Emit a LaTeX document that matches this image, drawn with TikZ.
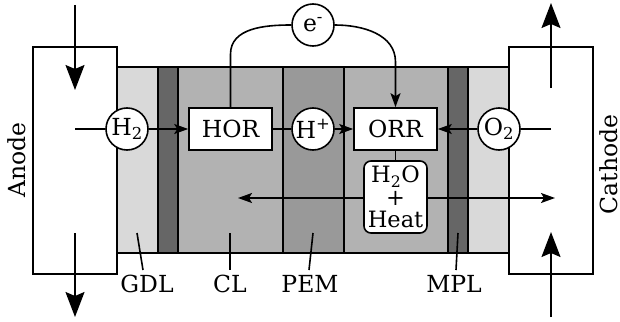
\documentclass[tikz,border=0pt]{standalone}
\usepackage{fontspec}
\setmainfont{DejaVu Serif}
\usetikzlibrary{arrows.meta}
\definecolor{gdlc}{gray}{0.85}
\definecolor{mplc}{gray}{0.40}
\definecolor{clc}{gray}{0.70}
\definecolor{pemc}{gray}{0.60}
\tikzset{
  lw/.style={line width=1.6pt},
  species/.style={circle,draw,lw,fill=white,minimum size=42pt,inner sep=0pt},
  rxn/.style={rectangle,draw,lw,fill=white,minimum width=83pt,minimum height=42pt,inner sep=0pt},
  prod/.style={rectangle,rounded corners=7pt,draw,lw,fill=white,minimum width=63pt,minimum height=72pt,inner sep=0pt,align=center,font=\fontsize{22.5}{22.5}\selectfont},
  side/.style={rectangle,draw,lw,fill=white,minimum width=84pt,minimum height=227pt,inner sep=0pt},
  sidelbl/.style={rotate=90,inner sep=0pt,anchor=base},
  lbl/.style={inner sep=0pt,anchor=base},
  bigarrow/.style={lw,-{Stealth[length=25pt,width=19pt,inset=4pt]}},
  smallarrow/.style={lw,-{Stealth[length=14pt,width=10pt,inset=3pt]}},
  dblarrow/.style={lw,{Stealth[length=14pt,width=10pt,inset=3pt]}-{Stealth[length=14pt,width=10pt,inset=3pt]}},
  conn/.style={lw}
}
\begin{document}
\begin{tikzpicture}[x=1pt,y=-1pt,font=\fontsize{23.5}{25}\selectfont]
\useasboundingbox (0,0) rectangle (620,321);
% layers
\fill[gdlc] (117,67) rectangle (158,253);
\fill[mplc] (158,67) rectangle (178,253);
\fill[clc] (178,67) rectangle (283,253);
\fill[pemc] (283,67) rectangle (344,253);
\fill[clc] (344,67) rectangle (448,253);
\fill[mplc] (448,67) rectangle (468,253);
\fill[gdlc] (468,67) rectangle (509,253);
\draw[lw] (117,67) rectangle (509,253);
\foreach \xx in {158,178,283,344,448,468} \draw[lw] (\xx,67) -- (\xx,253);
% side boxes
\node[side] (anode) at (75,160.5) {};
\node[side] (cathode) at (551,160.5) {};
\node[sidelbl] (anodelbl) at (25,160) {Anode};
\node[sidelbl] (cathodelbl) at (617,164.5) {Cathode};
% flow arrows
\coordinate (ain) at (75,5);
\coordinate (ainend) at (75,90);
\coordinate (aout) at (75,233);
\coordinate (aoutend) at (75,317);
\coordinate (cin) at (551,317);
\coordinate (cinend) at (551,232);
\coordinate (cout) at (551,88);
\coordinate (coutend) at (551,3);
\draw[bigarrow] (ain) -- (ainend);
\draw[bigarrow] (aout) -- (aoutend);
\draw[bigarrow] (cin) -- (cinend);
\draw[bigarrow] (cout) -- (coutend);
% heat/water double arrow
\coordinate (hl) at (238,198);
\coordinate (hr) at (555,198);
\draw[dblarrow] (hl) -- (hr);
% nodes
\node[rxn] (HOR) at (230.5,129) {HOR};
\node[rxn] (ORR) at (395.5,129) {ORR};
\node[species] (e) at (313,25) {e\textsuperscript{-}};
\node[species] (H2) at (127,129) {H\textsubscript{2}};
\node[species] (Hp) at (313,129) {H\textsuperscript{+}};
\node[species] (O2) at (499,129) {O\textsubscript{2}};
\node[prod] (H2O) at (395.5,197) {H\textsubscript{2}O\\+\\Heat};
% connectors
\coordinate (ah) at (75,129);
\coordinate (ch) at (551,129);
\draw[conn] (ah) -- (H2);
\draw[smallarrow] (H2) -- (HOR);
\draw[conn] (HOR) -- (Hp);
\draw[smallarrow] (Hp) -- (ORR);
\draw[conn] (ch) -- (O2);
\draw[smallarrow] (O2) -- (ORR);
\draw[conn] (ORR) -- (H2O);
\draw[conn] (HOR.north) -- ++(0,-53) to[out=90,in=180] (e.west);
\draw[smallarrow] (e.east) to[out=0,in=90] (395.5,62) -- (ORR.north);
% layer labels
\node[lbl] (GDL) at (147,292) {GDL};
\node[lbl] (CL) at (230,292) {CL};
\node[lbl] (PEM) at (310,292) {PEM};
\node[lbl] (MPL) at (454,292) {MPL};
\coordinate (gdlp) at (137,233);
\coordinate (clp) at (230,233);
\coordinate (pemp) at (313,233);
\coordinate (mplp) at (458,233);
\draw[conn] (gdlp) -- (143,270);
\draw[conn] (clp) -- (230,270);
\draw[conn] (pemp) -- (309,270);
\draw[conn] (mplp) -- (456,270);
\end{tikzpicture}
\end{document}
